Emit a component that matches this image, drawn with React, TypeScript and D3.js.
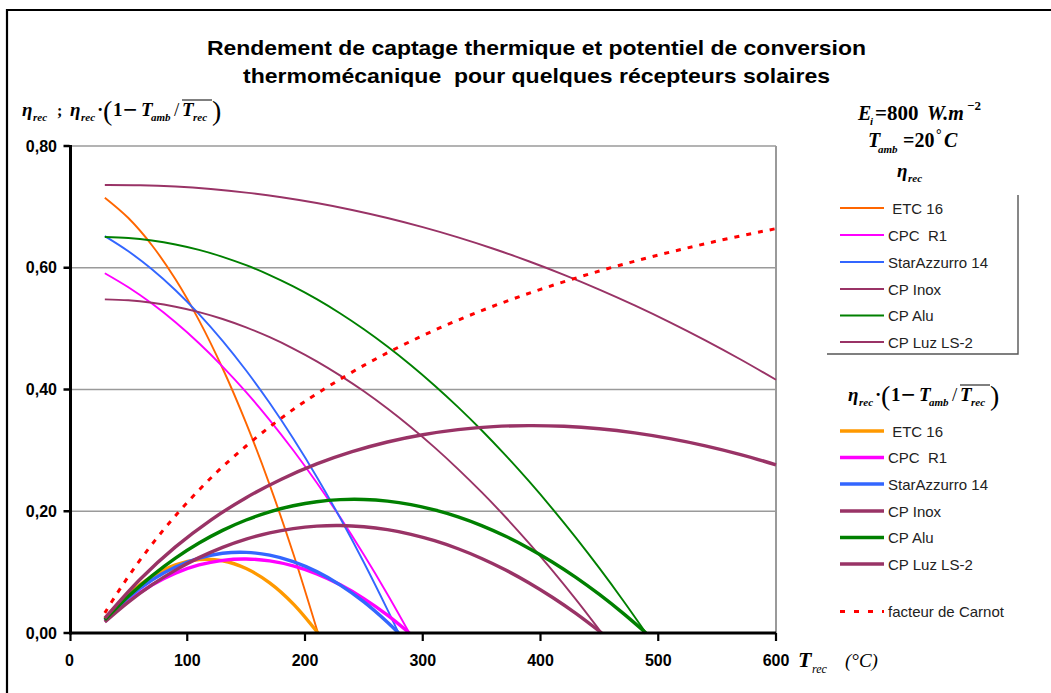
import React from 'react';
import * as d3 from 'd3';

// ---------- data ----------
const tickValuesY = [0, 0.2, 0.4, 0.6, 0.8];
const tickLabelsY = ['0,00', '0,20', '0,40', '0,60', '0,80'];
const tickValuesX = [0, 100, 200, 300, 400, 500, 600];

const legendNames = [' ETC 16', 'CPC  R1', 'StarAzzurro 14', 'CP Inox', 'CP Alu', 'CP Luz LS-2'];
const thinColors = ['#FF6600', '#FF00FF', '#3366FF', '#993366', '#008000', '#993366'];
const thickColors = ['#FF9900', '#FF00FF', '#3366FF', '#993366', '#008000', '#993366'];

const tEtc = [30, 50, 70, 90, 110, 130, 150, 170, 190, 211];
const etaEtc = [0.7151, 0.6817, 0.637, 0.581, 0.5136, 0.4349, 0.3448, 0.2434, 0.1306, 0];
const potEtc = [0.0236, 0.0633, 0.0928, 0.112, 0.1206, 0.1187, 0.1059, 0.0824, 0.0479, 0];

const tCpc = [30, 50, 70, 90, 110, 130, 150, 170, 190, 210, 230, 250, 270, 288.6];
const etaCpc = [0.591, 0.5679, 0.5411, 0.5104, 0.476, 0.4377, 0.3957, 0.3498, 0.3002, 0.2468, 0.1895, 0.1285, 0.0637, 0];
const potCpc = [0.0195, 0.0527, 0.0788, 0.0984, 0.1118, 0.1194, 0.1216, 0.1184, 0.1102, 0.0971, 0.0791, 0.0565, 0.0293, 0];

const tStar = [30, 50, 70, 90, 110, 130, 150, 170, 190, 210, 230, 250, 270, 279.5];
const etaStar = [0.652, 0.6271, 0.5975, 0.5631, 0.5239, 0.48, 0.4312, 0.3777, 0.3194, 0.2564, 0.1885, 0.1159, 0.0385, 0];
const potStar = [0.0215, 0.0582, 0.0871, 0.1085, 0.1231, 0.131, 0.1325, 0.1278, 0.1172, 0.1008, 0.0787, 0.051, 0.0177, 0];

const tInox = [30, 50, 70, 90, 110, 130, 150, 170, 190, 210, 230, 250, 270, 290, 310, 330, 350, 370, 390, 410, 430, 452];
const etaInox = [0.5481, 0.5465, 0.5424, 0.536, 0.5271, 0.5158, 0.502, 0.4859, 0.4673, 0.4463, 0.4228, 0.397, 0.3687, 0.338, 0.3049, 0.2693, 0.2313, 0.191, 0.1481, 0.1029, 0.0552, 0];
const potInox = [0.0181, 0.0507, 0.079, 0.1033, 0.1238, 0.1407, 0.1542, 0.1645, 0.1715, 0.1755, 0.1765, 0.1745, 0.1697, 0.1621, 0.1516, 0.1384, 0.1225, 0.1039, 0.0826, 0.0587, 0.0322, 0];

const tAlu = [30, 50, 70, 90, 110, 130, 150, 170, 190, 210, 230, 250, 270, 290, 310, 330, 350, 370, 390, 410, 430, 450, 470, 489.6];
const etaAlu = [0.6504, 0.6488, 0.6447, 0.6382, 0.6293, 0.618, 0.6042, 0.588, 0.5694, 0.5484, 0.5249, 0.499, 0.4707, 0.4399, 0.4067, 0.3711, 0.3331, 0.2926, 0.2497, 0.2044, 0.1567, 0.1065, 0.0539, 0];
const potAlu = [0.0215, 0.0602, 0.0939, 0.123, 0.1478, 0.1686, 0.1856, 0.199, 0.209, 0.2157, 0.2191, 0.2194, 0.2167, 0.2109, 0.2022, 0.1907, 0.1764, 0.1592, 0.1393, 0.1167, 0.0914, 0.0633, 0.0326, 0];

const tLuz = [30, 60, 90, 120, 150, 180, 210, 240, 270, 300, 330, 360, 390, 420, 450, 480, 510, 540, 570, 600];
const etaLuz = [0.736, 0.7356, 0.7334, 0.7293, 0.7235, 0.7158, 0.7063, 0.6949, 0.6817, 0.6667, 0.6499, 0.6312, 0.6107, 0.5884, 0.5642, 0.5382, 0.5104, 0.4808, 0.4493, 0.416];
const potLuz = [0.0243, 0.0883, 0.1414, 0.1855, 0.2223, 0.2527, 0.2778, 0.2979, 0.3138, 0.3257, 0.334, 0.339, 0.3407, 0.3396, 0.3355, 0.3287, 0.3193, 0.3075, 0.2931, 0.2763];

const tCarnot = [30, 40, 50, 60, 80, 100, 125, 150, 175, 200, 250, 300, 350, 400, 450, 500, 550, 600];
const carnot = [0.033, 0.0639, 0.0928, 0.1201, 0.1699, 0.2144, 0.264, 0.3072, 0.3459, 0.3804, 0.4396, 0.4885, 0.5296, 0.5645, 0.5946, 0.6208, 0.6439, 0.6643];

const temps = [tEtc, tCpc, tStar, tInox, tAlu, tLuz];
const etas = [etaEtc, etaCpc, etaStar, etaInox, etaAlu, etaLuz];
const pots = [potEtc, potCpc, potStar, potInox, potAlu, potLuz];

// ---------- layout ----------
const W = 1051;
const H = 693;
const plot = { left: 69.5, right: 776, top: 146, bottom: 633 };

const x = d3.scaleLinear().domain([0, 600]).range([plot.left, plot.right]);
const y = d3.scaleLinear().domain([0, 0.8]).range([plot.bottom, plot.top]);

const line = d3
  .line<[number, number]>()
  .x((d) => x(d[0]))
  .y((d) => y(d[1]))
  .curve(d3.curveCatmullRom.alpha(0.5));

const zip = (t: number[], v: number[]) => t.map((tt, i) => [tt, v[i]] as [number, number]);

const sans = '"Liberation Sans", Arial, Helvetica, sans-serif';
const serif = '"Liberation Serif", "Times New Roman", serif';

type PieceProps = { x: number; y: number; size?: number; italic?: boolean; bold?: boolean; children: React.ReactNode };
function P({ x, y, size = 19, italic = true, bold = true, children }: PieceProps) {
  return (
    <text
      x={x}
      y={y}
      fontFamily={serif}
      fontSize={size}
      fontStyle={italic ? 'italic' : 'normal'}
      fontWeight={bold ? 'bold' : 'normal'}
      fill="#000"
    >
      {children}
    </text>
  );
}

// η_rec·(1 − T_amb / T̄_rec)
function ExergyExpr({ x0, y0 }: { x0: number; y0: number }) {
  return (
    <g>
      <P x={x0} y={y0}>η</P>
      <P x={x0 + 11} y={y0 + 5} size={11}>rec</P>
      <P x={x0 + 27} y={y0} italic={false}>·</P>
      <P x={x0 + 33} y={y0 + 4} size={28} bold={false} italic={false}>(</P>
      <P x={x0 + 43} y={y0} italic={false}>1</P>
      <P x={x0 + 53} y={y0 + 1.5} size={25} italic={false}>−</P>
      <P x={x0 + 71} y={y0}>T</P>
      <P x={x0 + 81} y={y0 + 5} size={11}>amb</P>
      <P x={x0 + 104} y={y0} italic={false} bold={false}>/</P>
      <P x={x0 + 112} y={y0}>T</P>
      <P x={x0 + 123} y={y0 + 5} size={11}>rec</P>
      <line x1={x0 + 112} x2={x0 + 142} y1={y0 - 16} y2={y0 - 16} stroke="#000" strokeWidth={1} />
      <P x={x0 + 142} y={y0 + 4} size={28} bold={false} italic={false}>)</P>
    </g>
  );
}

export default function App() {
  const legend1Y = [208, 235, 262, 289, 315.5, 342];
  const legend2Y = [431, 457.5, 484, 511, 537.5, 564];
  return (
    <svg width={W} height={H} style={{ position: 'absolute', left: 0, top: 0, background: '#fff' }}>
      <rect x={0} y={0} width={W} height={H} fill="#fff" />
      {/* outer frame */}
      <path d={`M7,${H + 5} V10 H${W + 5}`} fill="none" stroke="#000" strokeWidth={2.2} />

      {/* title */}
      <text x={207} y={55} textLength={659} lengthAdjust="spacingAndGlyphs" fontFamily={sans} fontWeight="bold" fontSize={21} fill="#000">
        Rendement de captage thermique et potentiel de conversion
      </text>
      <text x={243} y={83} textLength={587} lengthAdjust="spacingAndGlyphs" fontFamily={sans} fontWeight="bold" fontSize={21} fill="#000" style={{ whiteSpace: 'pre' }}>
        {'thermomécanique  pour quelques récepteurs solaires'}
      </text>

      {/* y axis label */}
      <P x={22} y={116}>η</P>
      <P x={33} y={121} size={11}>rec</P>
      <P x={57} y={116} size={16} italic={false}>;</P>
      <ExergyExpr x0={70} y0={116} />

      {/* gridlines */}
      {tickValuesY.filter((v) => v > 0).map((v) => (
        <line key={`g${v}`} x1={plot.left} x2={plot.right} y1={y(v)} y2={y(v)} stroke="#9a9a9a" strokeWidth={1.6} />
      ))}
      <line x1={plot.right} x2={plot.right} y1={plot.top} y2={plot.bottom} stroke="#9a9a9a" strokeWidth={2} />

      {/* thin efficiency curves */}
      {temps.map((t, i) => (
        <path key={`thin${i}`} d={line(zip(t, etas[i])) || ''} fill="none" stroke={thinColors[i]} strokeWidth={1.9} />
      ))}
      {/* thick curves */}
      {temps.map((t, i) => (
        <path key={`thick${i}`} d={line(zip(t, pots[i])) || ''} fill="none" stroke={thickColors[i]} strokeWidth={3.4} />
      ))}
      {/* Carnot */}
      <path d={line(zip(tCarnot, carnot)) || ''} fill="none" stroke="#FF0000" strokeWidth={3} strokeDasharray="5,7" />

      {/* axes */}
      <line x1={plot.left} x2={plot.right} y1={plot.bottom} y2={plot.bottom} stroke="#000" strokeWidth={3} />
      <line x1={plot.left + 1} x2={plot.left + 1} y1={plot.top - 1} y2={plot.bottom + 1.5} stroke="#000" strokeWidth={3} />
      {tickValuesY.map((v, i) => (
        <g key={`yt${v}`}>
          <line x1={plot.left - 6} x2={plot.left} y1={y(v)} y2={y(v)} stroke="#000" strokeWidth={2.5} />
          <text x={57} y={y(v) + 5.5} textAnchor="end" fontFamily={sans} fontWeight="bold" fontSize={16} fill="#000">
            {tickLabelsY[i]}
          </text>
        </g>
      ))}
      {tickValuesX.map((v) => (
        <g key={`xt${v}`}>
          <line x1={x(v) + (v === 0 ? 1 : 0)} x2={x(v) + (v === 0 ? 1 : 0)} y1={plot.bottom} y2={plot.bottom + 8} stroke="#000" strokeWidth={2.2} />
          <text x={x(v)} y={666} textAnchor="middle" fontFamily={sans} fontWeight="bold" fontSize={16} fill="#000">
            {v}
          </text>
        </g>
      ))}

      {/* x axis label */}
      <P x={798} y={667} size={22}>T</P>
      <P x={812} y={673} size={12} bold={false}>rec</P>
      <P x={845} y={667} size={19} bold={false}>(°C)</P>

      {/* conditions */}
      <P x={858} y={120} size={20}>E</P>
      <P x={870} y={125} size={11}>i</P>
      <P x={875} y={120} size={21} italic={false}>=800</P>
      <P x={927} y={120} size={20}>W.m</P>
      <P x={967} y={110} size={13} italic={false}>−2</P>

      <P x={868} y={147} size={20}>T</P>
      <P x={878} y={153} size={11}>amb</P>
      <P x={903} y={147} size={20} italic={false}>=20</P>
      <P x={936} y={139} size={14} italic={false}>°</P>
      <P x={944} y={147} size={20}>C</P>

      <P x={897} y={177}>η</P>
      <P x={908} y={182} size={11}>rec</P>

      {/* legend 1 */}
      <path d="M1018,195 V354 H827" fill="none" stroke="#555" strokeWidth={1.4} />
      {legendNames.map((n, i) => (
        <g key={`l1${i}`}>
          <line x1={840} x2={884} y1={legend1Y[i]} y2={legend1Y[i]} stroke={thinColors[i]} strokeWidth={1.9} />
          <text x={888} y={legend1Y[i] + 5.5} fontFamily={sans} fontSize={15} fill="#222" style={{ whiteSpace: 'pre' }}>
            {n}
          </text>
        </g>
      ))}

      {/* legend 2 header */}
      <ExergyExpr x0={848} y0={401} />

      {/* legend 2 */}
      {legendNames.map((n, i) => (
        <g key={`l2${i}`}>
          <line x1={840} x2={884} y1={legend2Y[i]} y2={legend2Y[i]} stroke={thickColors[i]} strokeWidth={3.4} />
          <text x={888} y={legend2Y[i] + 5.5} fontFamily={sans} fontSize={15} fill="#222" style={{ whiteSpace: 'pre' }}>
            {n}
          </text>
        </g>
      ))}
      <line x1={840} x2={884} y1={611.5} y2={611.5} stroke="#FF0000" strokeWidth={3} strokeDasharray="5,9" />
      <text x={888} y={617} fontFamily={sans} fontSize={15} fill="#222">
        facteur de Carnot
      </text>
    </svg>
  );
}
